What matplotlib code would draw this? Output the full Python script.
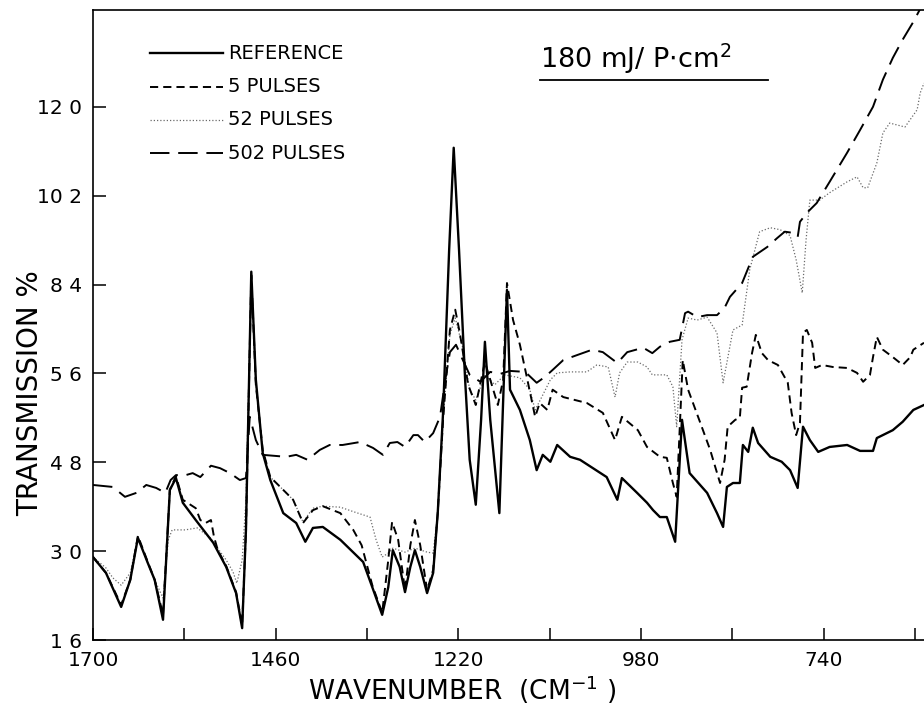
import numpy as np
import matplotlib
matplotlib.use("Agg")
import matplotlib.pyplot as plt
from matplotlib.lines import Line2D

# ── Data ──────────────────────────────────────────────────────────────────────
ref_wn = [1700, 1683, 1663, 1651, 1641, 1628, 1619, 1608, 1599, 1591, 1582, 1565,
          1542, 1525, 1512, 1504, 1499, 1492, 1486, 1477, 1467, 1450, 1433, 1421,
          1411, 1398, 1375, 1345, 1333, 1320, 1312, 1306, 1297, 1290, 1283, 1277,
          1270, 1261, 1253, 1247, 1240, 1232, 1226, 1219, 1211, 1205, 1197, 1190,
          1185, 1178, 1166, 1161, 1156, 1152, 1139, 1126, 1117, 1109, 1099, 1090,
          1073, 1060, 1043, 1025, 1011, 1005, 985, 972, 964, 955, 946, 935, 926,
          916, 893, 880, 872, 867, 859, 850, 846, 839, 833, 826, 810, 795, 784,
          774, 767, 758, 747, 732, 709, 692, 675, 670, 649, 636, 622, 608]
ref_t = [28.8, 25.6, 18.7, 24.2, 32.7, 27.6, 24.2, 16.1, 42.4, 44.8, 39.8, 36.3,
         31.7, 26.8, 21.5, 14.4, 34.3, 86.6, 64.7, 49.9, 44.4, 37.7, 35.7, 31.9,
         34.7, 34.9, 32.3, 27.8, 22.7, 17.1, 22.7, 30.2, 26.8, 21.7, 26.8, 30.2,
         26.8, 21.5, 25.6, 37.7, 58.0, 91.0, 111.7, 91.0, 64.7, 48.5, 39.4, 56.6,
         72.4, 56.6, 37.7, 60.6, 82.9, 62.7, 58.6, 52.5, 46.4, 49.5, 48.1, 51.5,
         49.1, 48.5, 46.8, 45.0, 40.4, 44.8, 41.8, 39.8, 38.3, 36.9, 36.9, 31.9,
         56.6, 45.8, 41.8, 37.7, 34.9, 43.0, 43.8, 43.8, 51.5, 50.1, 55.0, 51.9,
         49.1, 48.1, 46.4, 42.8, 55.2, 52.5, 50.1, 51.1, 51.5, 50.3, 50.3, 52.9,
         54.5, 56.2, 58.6, 59.6]

p5_wn = [1700, 1683, 1663, 1651, 1641, 1628, 1619, 1608, 1599, 1591, 1582, 1565,
         1559, 1552, 1545, 1541, 1536, 1525, 1512, 1504, 1499, 1492, 1486, 1477,
         1467, 1450, 1437, 1424, 1411, 1398, 1375, 1358, 1347, 1333, 1320, 1312,
         1307, 1299, 1290, 1283, 1277, 1270, 1261, 1253, 1247, 1240, 1231, 1224,
         1218, 1207, 1197, 1185, 1168, 1161, 1156, 1148, 1139, 1130, 1119, 1113,
         1103, 1096, 1082, 1051, 1030, 1014, 1005, 984, 972, 955, 946, 938, 933,
         925, 918, 902, 889, 876, 870, 866, 856, 850, 847, 841, 834, 829, 821,
         813, 800, 795, 787, 782, 776, 771, 767, 762, 755, 751, 742, 728, 709,
         696, 688, 679, 675, 670, 662, 649, 636, 626, 622, 608]
p5_t = [28.8, 25.6, 19.1, 24.2, 33.1, 27.8, 24.2, 17.1, 42.4, 45.2, 40.4, 38.7,
        36.3, 35.7, 36.3, 32.9, 30.2, 27.0, 21.7, 15.0, 34.3, 85.9, 63.7, 50.5,
        45.0, 42.4, 40.4, 35.7, 38.3, 39.1, 37.7, 34.3, 31.2, 23.1, 17.5, 28.2,
        35.9, 32.3, 22.1, 31.2, 36.3, 31.2, 22.1, 26.2, 37.7, 56.6, 74.8, 78.9,
        74.2, 63.7, 59.6, 68.3, 59.6, 64.7, 84.3, 76.8, 71.8, 65.3, 57.2, 60.0,
        58.6, 62.7, 61.2, 60.0, 58.0, 52.5, 57.2, 54.5, 51.1, 49.1, 48.9, 43.8,
        41.0, 68.7, 62.7, 56.0, 50.5, 43.8, 48.5, 55.2, 56.6, 57.0, 63.1, 63.3,
        70.1, 73.8, 70.1, 68.7, 67.7, 66.3, 64.1, 58.0, 53.5, 56.0, 74.2, 74.8,
        72.2, 67.1, 67.7, 67.3, 67.1, 66.1, 64.3, 65.7, 69.3, 73.4, 70.8, 69.3,
        67.7, 69.3, 70.8, 72.2]

p52_wn = [1700, 1683, 1674, 1663, 1651, 1641, 1628, 1619, 1608, 1601, 1596, 1579,
          1563, 1546, 1525, 1516, 1511, 1504, 1499, 1492, 1486, 1477, 1467, 1450,
          1437, 1424, 1411, 1398, 1375, 1356, 1336, 1328, 1320, 1312, 1306, 1290,
          1277, 1261, 1253, 1247, 1240, 1231, 1224, 1215, 1205, 1197, 1185, 1172,
          1159, 1139, 1126, 1119, 1111, 1099, 1090, 1073, 1051, 1038, 1023, 1014,
          1008, 998, 984, 972, 965, 946, 938, 933, 926, 918, 906, 893, 880, 872,
          859, 847, 843, 837, 824, 810, 797, 784, 776, 768, 763, 758, 745, 732,
          709, 696, 688, 682, 670, 662, 653, 633, 617, 613, 608]
p52_t = [28.8, 26.6, 24.6, 23.1, 25.6, 32.7, 27.6, 24.2, 20.5, 32.3, 34.3, 34.3,
         34.7, 32.7, 28.2, 25.8, 23.5, 28.2, 40.4, 85.3, 63.7, 50.5, 45.0, 42.4,
         40.4, 35.9, 38.7, 39.1, 38.9, 37.9, 36.9, 32.3, 28.8, 29.6, 30.6, 29.8,
         30.6, 29.8, 29.6, 37.7, 56.6, 73.8, 77.2, 71.8, 62.7, 60.6, 65.7, 63.7,
         65.7, 65.1, 62.7, 58.6, 61.0, 64.7, 66.1, 66.3, 66.3, 67.7, 67.3, 61.2,
         66.1, 68.3, 68.3, 67.3, 65.7, 65.7, 63.3, 55.2, 72.8, 77.2, 76.8, 77.4,
         74.2, 64.1, 74.8, 75.8, 80.3, 87.0, 94.7, 95.5, 95.1, 93.9, 89.0, 82.3,
         93.0, 101.1, 101.1, 102.6, 104.8, 105.8, 103.6, 103.6, 108.6, 114.7,
         116.7, 115.9, 119.4, 122.8, 124.8]

p502_wn = [1700, 1674, 1658, 1643, 1630, 1617, 1605, 1598, 1591, 1578, 1569, 1559,
           1545, 1533, 1520, 1507, 1499, 1494, 1486, 1477, 1446, 1433, 1418, 1402,
           1389, 1372, 1349, 1332, 1319, 1310, 1300, 1290, 1279, 1273, 1264, 1253,
           1244, 1237, 1231, 1223, 1214, 1205, 1191, 1178, 1165, 1152, 1132, 1117,
           1106, 1096, 1082, 1064, 1044, 1030, 1011, 998, 977, 965, 955, 942, 929,
           922, 918, 906, 893, 880, 870, 863, 847, 833, 814, 801, 791, 782, 774,
           771, 762, 749, 732, 709, 692, 675, 662, 649, 636, 622, 608]
p502_t = [43.4, 43.0, 41.0, 41.8, 43.4, 42.8, 41.8, 44.4, 45.4, 45.4, 45.8, 45.0,
          47.3, 46.8, 45.8, 44.4, 44.8, 57.2, 52.5, 49.5, 49.1, 49.5, 48.5, 50.5,
          51.5, 51.5, 52.1, 50.9, 49.5, 51.9, 52.1, 51.1, 53.5, 53.5, 52.1, 53.9,
          57.2, 64.7, 70.3, 71.8, 68.7, 65.7, 64.3, 66.3, 65.9, 66.5, 66.3, 64.1,
          65.3, 66.7, 68.7, 69.7, 70.8, 70.3, 68.1, 70.3, 71.2, 70.1, 71.4, 72.4,
          72.8, 78.2, 78.5, 77.4, 77.8, 77.8, 79.3, 81.5, 84.3, 89.6, 91.6, 93.4,
          94.7, 94.5, 93.6, 96.7, 98.5, 100.5, 104.8, 110.7, 115.3, 120.0, 125.5,
          129.9, 133.6, 137.2, 141.3]

x_major = [1700, 1460, 1220, 980, 740]
x_minor = [1580, 1340, 1100, 860, 620]
y_ticks = [12, 30, 48, 66, 84, 102, 120]
y_labels = ["1 6", "3 0", "4 8", "5 6", "8 4", "10 2", "12 0"]

legend_labels = ["REFERENCE", "5 PULSES", "52 PULSES", "502 PULSES"]

# ── Figure ────────────────────────────────────────────────────────────────────
plt.rcParams["font.family"] = ["DejaVu Sans"]
fig = plt.figure(figsize=(9.24, 7.06), dpi=100)
ax = fig.add_axes([93 / 924, 66 / 706, 831 / 924, 630 / 706])

styles = [
    dict(color="black", lw=1.7),                                 # reference
    dict(color="black", lw=1.4, dashes=(4.2, 2.6)),              # 5 pulses
    dict(color="#6a6a6a", lw=0.9, dashes=(1.0, 1.6)),            # 52 pulses
    dict(color="black", lw=1.4, dashes=(10.0, 4.5)),             # 502 pulses
]

ax.plot(p52_wn, p52_t, **styles[2])
ax.plot(p502_wn, p502_t, **styles[3])
ax.plot(p5_wn, p5_t, **styles[1])
ax.plot(ref_wn, ref_t, **styles[0])

ax.set_xlim(1700, 608)
ax.set_ylim(12, 139.6)

ax.spines["right"].set_visible(False)
for s in ("left", "top", "bottom"):
    ax.spines[s].set_linewidth(1.2)

ax.set_xticks(x_major)
ax.set_xticks(x_minor, minor=True)
ax.set_xticklabels([str(v) for v in x_major])
ax.set_yticks(y_ticks)
ax.set_yticklabels(y_labels)
ax.tick_params(which="both", direction="in", length=9, width=1.1,
               labelsize=14.5, pad=8)

# Axis titles
fig.text(462 / 924, 1 - 690 / 706, r"WAVENUMBER  (CM$^{\mathregular{-1}}$ )",
         ha="center", va="center", fontsize=19)
fig.text(30 / 924, 1 - 393 / 706, "TRANSMISSION %", rotation=90,
         ha="center", va="center", fontsize=20)

# ── Manual legend ─────────────────────────────────────────────────────────────
rows_y = [0.9317, 0.8778, 0.8254, 0.7730]
for lbl, st, yy in zip(legend_labels, styles, rows_y):
    ax.add_line(Line2D([0.0686, 0.1564], [yy, yy], transform=ax.transAxes, **st))
    ax.text(0.1625, yy, lbl, transform=ax.transAxes, ha="left", va="center",
            fontsize=14)

# Fluence label, underlined
ax.text(0.538, 0.908, r"180 mJ/ P$\cdot$cm$^{\mathregular{2}}$", transform=ax.transAxes,
        ha="left", va="baseline", fontsize=19.5)
ax.add_line(Line2D([0.538, 0.812], [0.889, 0.889], transform=ax.transAxes,
                   color="black", lw=1.3))

fig.savefig("out.png", dpi=100, facecolor="white")
